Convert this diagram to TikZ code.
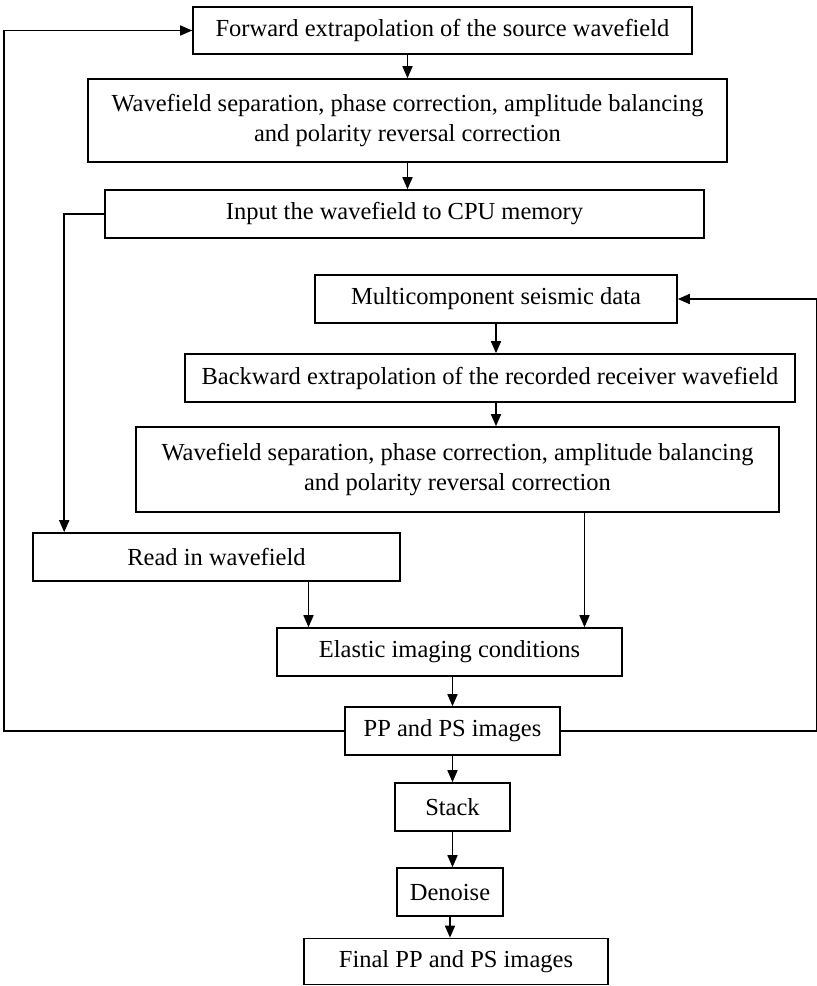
\documentclass[tikz,border=0pt]{standalone}
\usepackage{fontspec}
\setmainfont{Liberation Serif}
\usetikzlibrary{arrows.meta,calc,positioning}

\begin{document}
\begin{tikzpicture}[
  x=1pt, y=-1pt,
  box/.style={draw, line width=1.6pt, align=center, inner sep=0pt, font=\fontsize{24.5}{30}\selectfont},
  arr/.style={-{Triangle[length=12pt,width=10pt]}, line width=1.6pt}
]
\useasboundingbox (0,0) rectangle (817,986);

\node[box, minimum width=499pt, minimum height=47pt] (fwd) at (442.5,30.5) {Forward extrapolation of the source wavefield};
\node[box, minimum width=639pt, minimum height=83pt] (sep1) at (407.5,120.5) {Wavefield separation, phase correction, amplitude balancing\\and polarity reversal correction};
\node[box, minimum width=599pt, minimum height=48pt] (input) at (404.5,214) {Input the wavefield to CPU memory};
\node[box, minimum width=362pt, minimum height=48pt] (multi) at (496,299) {Multicomponent seismic data};
\node[box, minimum width=610pt, minimum height=48pt] (back) at (490,378) {Backward extrapolation of the recorded receiver wavefield};
\node[box, minimum width=643pt, minimum height=85pt] (sep2) at (457.5,469.5) {Wavefield separation, phase correction, amplitude balancing\\and polarity reversal correction};
\node[box, minimum width=367pt, minimum height=48pt] (read) at (216.5,557) {Read in wavefield};
\node[box, minimum width=345pt, minimum height=48pt] (elastic) at (449.5,652) {Elastic imaging conditions};
\node[box, minimum width=215pt, minimum height=48pt] (pp) at (452.5,731) {PP and PS images};
\node[box, minimum width=115pt, minimum height=48pt] (stack) at (452.5,807) {Stack};
\node[box, minimum width=106pt, minimum height=48pt] (denoise) at (450,892) {Denoise};
\node[box, minimum width=304pt, minimum height=46pt] (final) at (456,961.5) {Final PP and PS images};

% source side
\draw[arr] (fwd.south -| sep1.north) -- (sep1.north);
\draw[arr] (sep1.south) -- (sep1.south |- input.north);
\draw[arr] (input.west) -| ($(read.north west)+(32,0)$);

% receiver side
\draw[arr] (multi.south) -- (multi.south |- back.north);
\draw[arr] (back.south -| multi.south) -- (sep2.north -| multi.south);
\draw[arr] ([xshift=127pt]sep2.south) -- ([xshift=127pt]sep2.south |- elastic.north);
\draw[arr] ([xshift=92pt]read.south) -- ([xshift=92pt]read.south |- elastic.north);

% imaging
\draw[arr] (elastic.south -| pp.north) -- (pp.north);
\draw[arr] (pp.south) -- (stack.north);
\draw[arr] (stack.south) -- (denoise.north -| stack.south);
\draw[arr] (denoise.south) -- (final.north -| denoise.south);

% loops back
\draw[arr] (pp.west) -- ++(-340,0) |- (fwd.west);
\draw[arr] (pp.east) -- ++(256,0) |- (multi.east);
\end{tikzpicture}
\end{document}
